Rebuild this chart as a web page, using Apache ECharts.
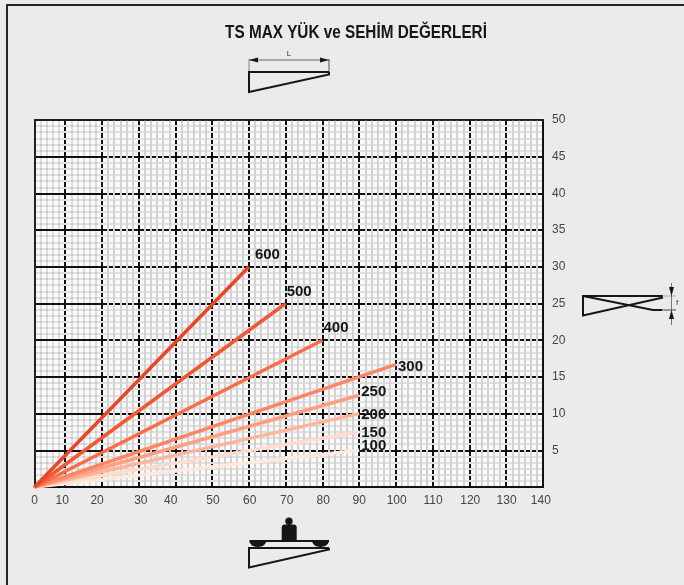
<!DOCTYPE html>
<html>
<head>
<meta charset="utf-8">
<style>html,body{margin:0;padding:0;background:#ebebeb}#c{width:684px;height:585px}</style>
<script src="https://cdn.jsdelivr.net/npm/echarts@6/dist/echarts.min.js"></script>
</head>
<body>
<div id="c"></div>
<script>
// --- data ---
var titleText = 'TS MAX YÜK ve SEHİM DEĞERLERİ';
var loads = ['600', '500', '400', '300', '250', '200', '150', '100'];
var spans = [60, 70, 80, 100, 90, 90, 90, 90];
var deflections = [30, 25, 20, 16.7, 12.5, 10, 7.5, 5];
// the drawn origin sits one minor cell past the true zero of the scale
var cell = 10 / 6;
var xMajorTicks = [10, 20, 30, 40, 50, 60, 70, 80, 90, 100, 110, 120, 130];
var xTickLabels = ['0', '10', '20', '30', '40', '50', '60', '70', '80', '90', '100', '110', '120', '130', '140'];
var xTickLabelAt = [cell, 9.2, 18.7, 30.6, 38.7, 50.2, 60.2, 70.3, 80.2, 90, 100.2, 110.1, 120.2, 130.1, 139.4];

// --- styles ---
var lineColors = ['#e8452b', '#ef5736', '#f86d4c', '#ff8663', '#ff9f80', '#ffb59c', '#ffdccd', '#ffe9df'];
var labelOffsets = [[-2, -12], [-7, -12], [-7, -12], [-6, 2], [-6, -3], [-6, 1], [-6, 1], [-6, -4]];
var sans = '"Liberation Sans", Arial, sans-serif';
var ink = '#161616';

var grid = { left: 34.5, right: 141, top: 120, bottom: 98, show: true, backgroundColor: '#fafafa', borderWidth: 0 };

// minor lines skip the major positions so the black lines stay visible;
// vertical minor lines are fainter over the first two cells
var minorXColors = [];
for (var i = 0; i < 84; i++) {
  minorXColors.push((i + 1) % 6 === 0 ? 'rgba(0,0,0,0)' : (i < 11 ? 'rgba(0,0,0,0.11)' : '#d2d2d2'));
}
var minorYColors = [];
for (var j = 0; j < 61; j++) {
  minorYColors.push(j % 6 === 0 ? 'rgba(0,0,0,0)' : '#e0e0e0');
}

var series = loads.map(function (name, i) {
  return {
    type: 'line', name: name, xAxisIndex: 0, yAxisIndex: 0, z: 5,
    symbol: 'none', silent: true,
    data: [[cell, 0], [spans[i], deflections[i]]],
    lineStyle: { color: lineColors[i], width: 3.5, cap: 'butt' },
    endLabel: {
      show: true, formatter: name, offset: labelOffsets[i],
      fontFamily: sans, fontWeight: 'bold', fontSize: 15, color: ink
    }
  };
}).reverse();

function seg(pts, color, width) {
  return { type: 'polyline', z: 10, shape: { points: pts }, style: { stroke: color || ink, lineWidth: width || 2, fill: null, lineJoin: 'miter' } };
}
function tri(pts) {
  return { type: 'polygon', z: 10, shape: { points: pts }, style: { fill: ink } };
}
function txt(x, y, t) {
  return { type: 'text', z: 10, x: x, y: y, style: { text: t, fontFamily: sans, fontSize: 8, fill: '#333', align: 'center', verticalAlign: 'middle' } };
}
function bowl(cx, y, rx, ry) {
  var p = [];
  for (var a = 0; a <= 12; a++) {
    var t = Math.PI * a / 12;
    p.push([cx + rx * Math.cos(t), y + ry * Math.sin(t)]);
  }
  return tri(p);
}

var graphics = [
  // page frame
  seg([[7, 585], [7, 5], [684, 5]], '#262626', 2),
  // chart title, condensed like the reference
  { type: 'text', z: 10, x: 356, y: 33, scaleX: 0.85, scaleY: 1,
    style: { text: titleText, fontFamily: sans, fontWeight: 'bold', fontSize: 18, fill: ink, align: 'center', verticalAlign: 'middle' } },
  // top diagram: span L
  seg([[249, 59], [249, 72]], '#888', 1),
  seg([[329, 59], [329, 72]], '#555', 1),
  seg([[249, 60], [329, 60]], '#444', 0.8),
  tri([[249, 60], [258, 57.5], [258, 62.5]]),
  tri([[329, 60], [320, 57.5], [320, 62.5]]),
  txt(289, 54, 'L'),
  seg([[329, 72], [249, 72], [249, 92], [329, 74.5], [329, 72]]),
  // right diagram: deflection f
  seg([[663, 296], [583, 296], [583, 315.5], [663, 297.5]]),
  seg([[583, 296], [653, 310], [662, 310]]),
  seg([[662, 296], [676, 296]], '#999', 0.8),
  seg([[662, 310], [676, 310]], ink, 0.8),
  seg([[671.5, 283], [671.5, 325]], '#555', 0.8),
  tri([[671.5, 296], [669, 287], [674, 287]]),
  tri([[671.5, 310], [669, 319], [674, 319]]),
  txt(677, 302.5, 'f'),
  // bottom diagram: loaded beam
  { type: 'circle', z: 10, shape: { cx: 289, cy: 521.3, r: 3.7 }, style: { fill: ink } },
  { type: 'rect', z: 10, shape: { x: 281.7, y: 524.5, width: 15, height: 16, r: [3, 3, 0, 0] }, style: { fill: ink } },
  seg([[249.5, 541], [329, 541]], ink, 2),
  bowl(257.8, 541, 8.3, 6),
  bowl(320.5, 541, 8.3, 6),
  seg([[329, 548], [249, 548], [249, 567.5], [329, 549.5], [329, 548]])
];

var option = {
  backgroundColor: '#ebebeb',
  animation: false,
  grid: grid,
  xAxis: [
    { // major grid and tick labels
      type: 'value', min: cell, max: 140, position: 'bottom', z: 0,
      axisLine: { show: false }, axisTick: { show: false, customValues: xMajorTicks },
      splitLine: { show: true, lineStyle: { color: '#111', width: 2 } },
      axisLabel: {
        customValues: xTickLabelAt, margin: 8, hideOverlap: false,
        formatter: function (v) { return xTickLabels[xTickLabelAt.indexOf(v)]; },
        fontFamily: sans, fontSize: 12, color: '#444'
      }
    },
    { // minor grid
      type: 'value', min: cell, max: 140, interval: cell, position: 'bottom', z: 1,
      axisLine: { show: false }, axisTick: { show: false }, axisLabel: { show: false },
      splitLine: { show: true, lineStyle: { color: minorXColors, width: 2 } }
    },
    { // bottom border
      type: 'value', min: cell, max: 140, position: 'bottom', z: 2,
      axisLine: { show: true, onZero: false, lineStyle: { color: '#111', width: 2 } },
      axisTick: { show: false }, axisLabel: { show: false }, splitLine: { show: false }
    },
    { // top border
      type: 'value', min: cell, max: 140, position: 'top', z: 2,
      axisLine: { show: true, onZero: false, lineStyle: { color: '#222', width: 1.5 } },
      axisTick: { show: false }, axisLabel: { show: false }, splitLine: { show: false }
    }
  ],
  yAxis: [
    { // major grid and tick labels
      type: 'value', min: 0, max: 50, interval: 5, position: 'right', z: 0,
      axisLine: { show: false }, axisTick: { show: false },
      splitLine: { show: true, lineStyle: { color: '#111', width: 2 } },
      axisLabel: {
        showMinLabel: false, margin: 9,
        fontFamily: sans, fontSize: 12, color: '#444'
      }
    },
    { // minor grid
      type: 'value', min: 0, max: 50, interval: 5 / 6, position: 'right', z: 1,
      axisLine: { show: false }, axisTick: { show: false }, axisLabel: { show: false },
      splitLine: { show: true, lineStyle: { color: minorYColors, width: 2 } }
    },
    { // right border
      type: 'value', min: 0, max: 50, position: 'right', z: 2,
      axisLine: { show: true, onZero: false, lineStyle: { color: '#111', width: 2 } },
      axisTick: { show: false }, axisLabel: { show: false }, splitLine: { show: false }
    },
    { // left border
      type: 'value', min: 0, max: 50, position: 'left', z: 2,
      axisLine: { show: true, onZero: false, lineStyle: { color: '#222', width: 2 } },
      axisTick: { show: false }, axisLabel: { show: false }, splitLine: { show: false }
    }
  ],
  series: series,
  graphic: graphics
};
echarts.init(document.getElementById('c'), null, { renderer: 'canvas' }).setOption(option);
</script>
</body>
</html>
